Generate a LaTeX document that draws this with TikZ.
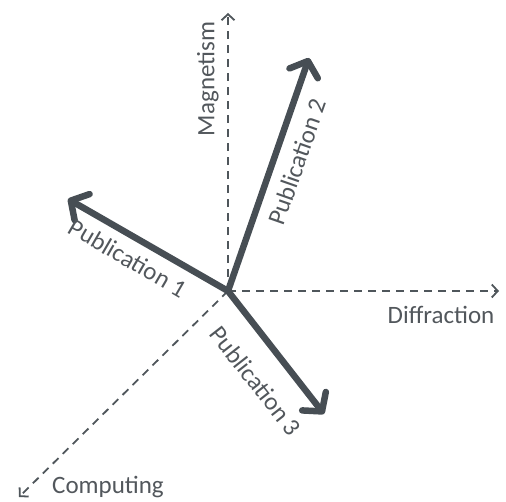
\documentclass[tikz,border=0pt]{standalone}
\usepackage{fontspec}
\setmainfont{Carlito}
\usetikzlibrary{arrows.meta}
\definecolor{axisgray}{HTML}{4F565B}
\definecolor{pubgray}{HTML}{474E54}
\definecolor{labelgray}{HTML}{52575C}
\begin{document}
\begin{tikzpicture}[x=1pt,y=-1pt,
  axis/.style={draw=axisgray,line width=1.8pt,dash pattern=on 8pt off 6pt,
    -{Straight Barb[length=6pt,width=13pt,line width=1.8pt]}},
  pub/.style={draw=pubgray,line width=6.5pt,
    -{Straight Barb[length=13pt,width=30pt,line width=6.5pt,round]}},
  lbl/.style={text=labelgray,font=\fontsize{25}{28}\selectfont,inner sep=0pt}]
  \useasboundingbox (0,0) rectangle (506,502);
  % origin and axis ends
  \coordinate (o) at (228,291);
  \coordinate (mag) at (228,13);
  \coordinate (dif) at (499,291);
  \coordinate (com) at (19,497);
  % publication vectors
  \coordinate (p1) at (68,199);
  \coordinate (p2) at (309,58);
  \coordinate (p3) at (324,414);
  \draw[axis] (o) -- (mag);
  \draw[axis] (o) -- (dif);
  \draw[axis] (o) -- (com);
  \draw[pub] (o) -- (p1);
  \draw[pub] (o) -- (p2);
  \draw[pub] (o) -- (p3);
  % labels
  \node[lbl,rotate=90] (lmag) at (208,79) {Magnetism};
  \node[lbl] (ldif) at (441,315) {Diffraction};
  \node[lbl] (lcom) at (108,487) {Computing};
  \node[lbl,rotate=-30.2] (l1) at (128,258) {Publication 1};
  \node[lbl,rotate=70.7] (l2) at (297,162) {Publication 2};
  \node[lbl,rotate=-52] (l3) at (256,381) {Publication 3};
\end{tikzpicture}
\end{document}
